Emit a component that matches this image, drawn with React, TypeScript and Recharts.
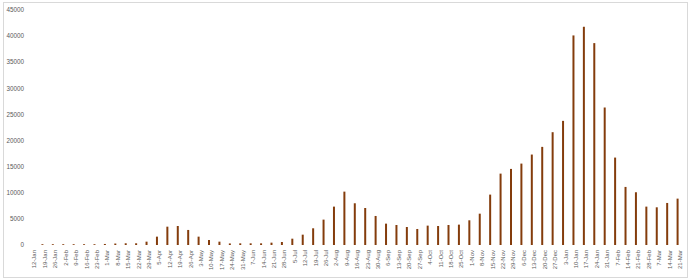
import { BarChart, Bar, XAxis, YAxis } from "recharts";

const weeks = [
  "12-Jan", "19-Jan", "26-Jan", "2-Feb", "9-Feb", "16-Feb", "23-Feb", "1-Mar",
  "8-Mar", "15-Mar", "22-Mar", "29-Mar", "5-Apr", "12-Apr", "19-Apr", "26-Apr",
  "3-May", "10-May", "17-May", "24-May", "31-May", "7-Jun", "14-Jun", "21-Jun",
  "28-Jun", "5-Jul", "12-Jul", "19-Jul", "26-Jul", "2-Aug", "9-Aug", "16-Aug",
  "23-Aug", "30-Aug", "6-Sep", "13-Sep", "20-Sep", "27-Sep", "4-Oct", "11-Oct",
  "18-Oct", "25-Oct", "1-Nov", "8-Nov", "15-Nov", "22-Nov", "29-Nov", "6-Dec",
  "13-Dec", "20-Dec", "27-Dec", "3-Jan", "10-Jan", "17-Jan", "24-Jan", "31-Jan",
  "7-Feb", "14-Feb", "21-Feb", "28-Feb", "7-Mar", "14-Mar", "21-Mar",
];

const cases = [
  0, 150, 150, 150, 150, 150, 150, 200,
  280, 330, 330, 640, 1600, 3510, 3640, 2880,
  1600, 960, 640, 300, 320, 320, 320, 450,
  575, 1210, 1980, 3200, 4860, 7350, 10220, 7990,
  7090, 5560, 4090, 3830, 3450, 3070, 3710, 3640,
  3830, 3900, 4730, 6000, 9650, 13670, 14570, 15590,
  17320, 18790, 21600, 23770, 40130, 41790, 38660, 26330,
  16740, 11120, 10100, 7350, 7220, 8050, 8880,
];

const yTicks = [0, 5000, 10000, 15000, 20000, 25000, 30000, 35000, 40000, 45000];

const BAR_COLOR = "#843C0C";
const TEXT_COLOR = "#595959";
const FONT = "'Liberation Sans', Arial, sans-serif";

const chartData = weeks.map((week, i) => ({ week, cases: cases[i] }));

export default function App() {
  return (
    <div style={{ position: "fixed", left: 0, top: 0, width: 690, height: 280, background: "#fff" }}>
      <div
        style={{
          position: "absolute",
          left: 3,
          top: 2,
          width: 683,
          height: 274,
          border: "1px solid #d9d9d9",
        }}
      />
      <BarChart
        width={690}
        height={280}
        data={chartData}
        margin={{ top: 10, right: 7, bottom: 0, left: 0 }}
        barCategoryGap={0}
        style={{ position: "absolute", left: 0, top: 0 }}
      >
        <XAxis
          dataKey="week"
          interval={0}
          height={35}
          axisLine={false}
          tickLine={false}
          tickSize={3}
          tickMargin={2}
          tick={{
            angle: -90,
            textAnchor: "end",
            verticalAnchor: "middle",
            fontSize: 6,
            fill: TEXT_COLOR,
            fontFamily: FONT,
          }}
        />
        <YAxis
          domain={[0, 45000]}
          ticks={yTicks}
          width={27}
          axisLine={false}
          tickLine={false}
          tickSize={3}
          tickMargin={0}
          tick={{ fontSize: 6.3, fill: TEXT_COLOR, fontFamily: FONT }}
        />
        <Bar dataKey="cases" fill={BAR_COLOR} barSize={2} isAnimationActive={false} />
      </BarChart>
    </div>
  );
}
